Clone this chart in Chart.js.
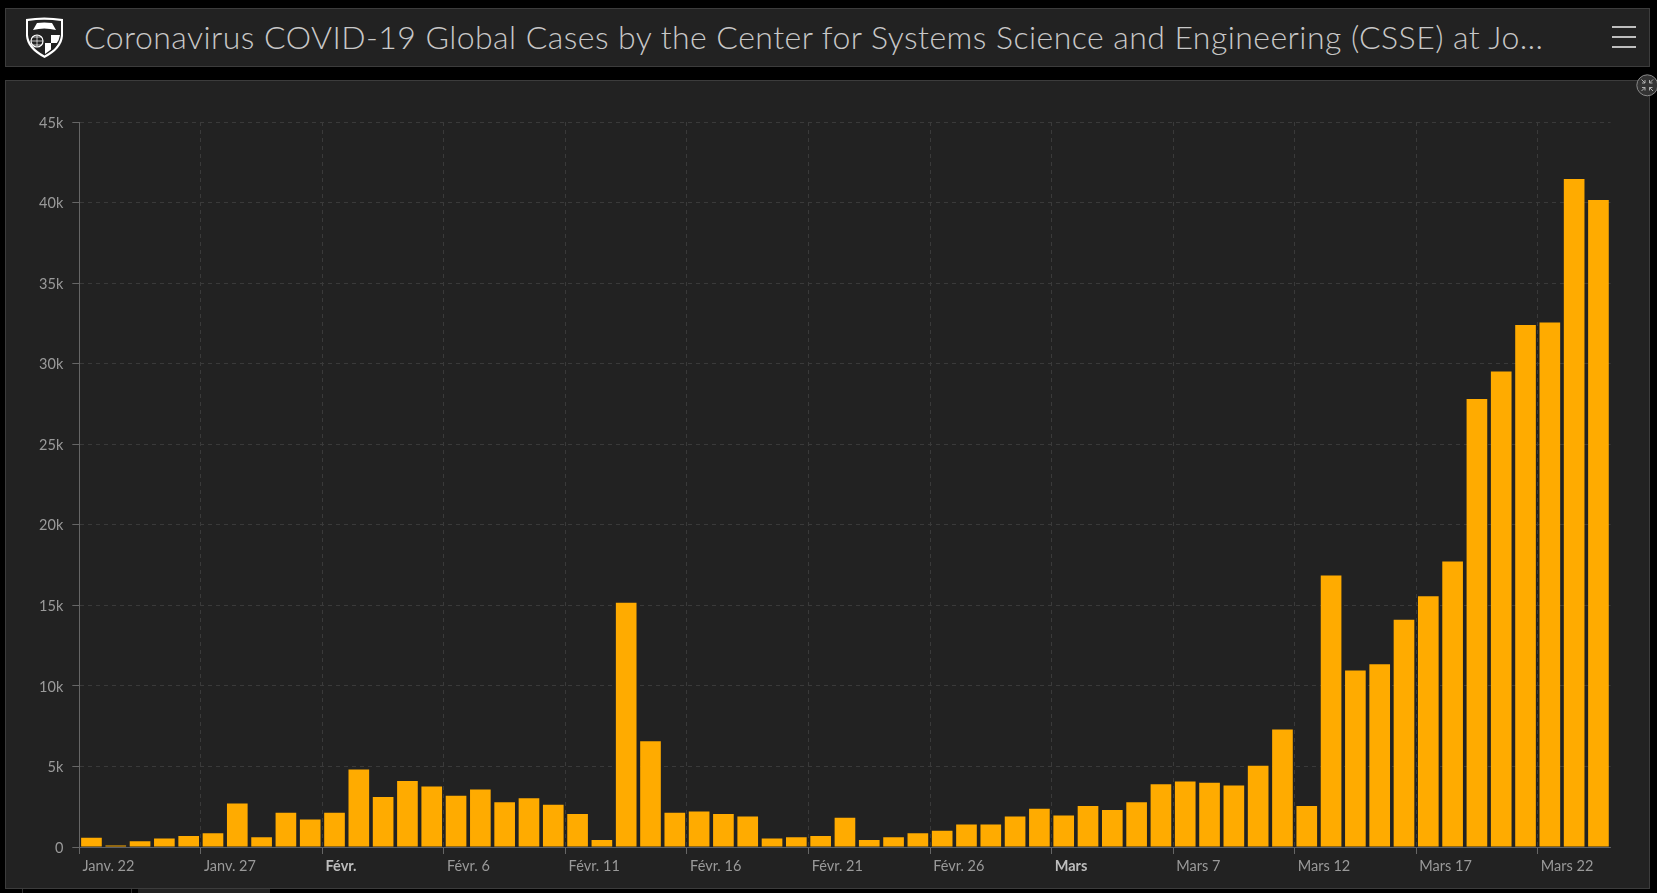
<!DOCTYPE html>
<html lang="fr"><head><meta charset="utf-8">
<script src="https://cdn.jsdelivr.net/npm/chart.js@4"></script>
<style>
html,body{margin:0;padding:0;background:#000;width:1657px;height:893px;overflow:hidden}
.panel{position:absolute;box-sizing:border-box;background:#222;border:1px solid #3c3c3c}
#head{left:5px;top:8px;width:1645px;height:59px}
#body{left:5px;top:80px;width:1645px;height:809px}
#title{position:absolute;left:84px;top:15px;height:44px;line-height:44px;font:300 32px/44px Lato,sans-serif;color:#c8c8c8;white-space:nowrap;letter-spacing:.45px}
canvas{position:absolute;left:0;top:0}
.bar{position:absolute;left:1612px;width:24px;height:2px;background:#bdbdbd}
.frag{position:absolute;background:#333}
svg{position:absolute}
</style></head><body>
<div class="panel" id="head"></div>
<div class="panel" id="body"></div>
<div class="frag" style="left:22px;top:889px;width:1px;height:4px"></div>
<div class="frag" style="left:131px;top:889px;width:1px;height:4px"></div>
<div class="frag" style="left:138px;top:889px;width:132px;height:4px;background:#222"></div>
<svg style="left:24px;top:16px" width="41" height="43" viewBox="0 0 41 43">
<path d="M2 3 Q20 0 39 3 L39 20 Q38 33 20.500 42 Q3 33 2 20Z" fill="#fff"/>
<path d="M4 5 Q20 2.500 37 5 L37 19 L4 19Z" fill="#222"/>
<path d="M9 14 L13 7 Q20 6 28 7 L32 14 Q20 11 9 14Z" fill="#fff"/>
<path d="M4 19 H37 Q36 31 20.500 39.500 Q5 31 4 19Z" fill="#222"/>
<circle cx="13" cy="25" r="6" fill="none" stroke="#fff" stroke-width="1.200"/>
<path d="M7 25H19M13 19V31M9 21H17M9 29H17" stroke="#fff" stroke-width=".7"/>
<path d="M21 19H36Q35 29 21 38Z" fill="#fff"/>
<path d="M21 19H27V27H21ZM27 27H34Q32 32 27 35Z" fill="#222"/>
</svg>
<div id="title">Coronavirus COVID-19 Global Cases by the Center for Systems Science and Engineering (CSSE) at Jo…</div>
<div class="bar" style="top:26px"></div><div class="bar" style="top:36px"></div><div class="bar" style="top:46px"></div>
<canvas id="c" width="1657" height="893"></canvas>
<svg style="left:1635px;top:73px" width="22" height="24" viewBox="0 0 22 24">
<circle cx="12.300" cy="12.300" r="10.500" fill="#333" stroke="#8a8a8a" stroke-width="1"/>
<path d="M6.500 6.500L10 10M10 7V10H7M18 6.500L14.500 10M14.500 7V10H17.500M6.500 18L10 14.500M10 17.500V14.500H7M18 18L14.500 14.500M14.500 17.500V14.500H17.500" fill="none" stroke="#bbb" stroke-width=".9"/>
</svg>
<script>
const categories = ["Janv. 22","Janv. 23","Janv. 24","Janv. 25","Janv. 26","Janv. 27","Janv. 28","Janv. 29","Janv. 30","Janv. 31",
"Févr. 1","Févr. 2","Févr. 3","Févr. 4","Févr. 5","Févr. 6","Févr. 7","Févr. 8","Févr. 9","Févr. 10",
"Févr. 11","Févr. 12","Févr. 13","Févr. 14","Févr. 15","Févr. 16","Févr. 17","Févr. 18","Févr. 19","Févr. 20",
"Févr. 21","Févr. 22","Févr. 23","Févr. 24","Févr. 25","Févr. 26","Févr. 27","Févr. 28","Févr. 29","Mars 1",
"Mars 2","Mars 3","Mars 4","Mars 5","Mars 6","Mars 7","Mars 8","Mars 9","Mars 10","Mars 11",
"Mars 12","Mars 13","Mars 14","Mars 15","Mars 16","Mars 17","Mars 18","Mars 19","Mars 20","Mars 21",
"Mars 22","Mars 23","Mars 24"];
const dailyCases = [580,100,350,520,680,850,2700,600,2130,1710,
2130,4810,3100,4090,3760,3180,3570,2770,3020,2620,
2050,430,15160,6570,2130,2210,2050,1900,520,600,
680,1820,430,600,850,1010,1400,1400,1900,2380,
1960,2540,2290,2770,3900,4070,3990,3820,5040,7290,
2540,16850,10960,11350,14100,15570,17720,27800,29510,32400,
32550,41460,40160];
const tickLabels = ["Janv. 22","Janv. 27","Févr.","Févr. 6","Févr. 11","Févr. 16","Févr. 21","Févr. 26","Mars","Mars 7","Mars 12","Mars 17","Mars 22"];
const boldTicks = ["Févr.","Mars"];
const tickEvery = 5;
const yMax = 45000, yStep = 5000;

new Chart(document.getElementById('c'),{
  type:'bar',
  data:{labels:categories,datasets:[{data:dailyCases,backgroundColor:'#ffab00',borderWidth:0,barPercentage:.85,categoryPercentage:1}]},
  options:{
    responsive:false,animation:false,
    layout:{padding:{left:0,top:122,right:46.4,bottom:0}},
    plugins:{legend:{display:false},tooltip:{enabled:false}},
    scales:{
      x:{
        grid:{offset:true,drawOnChartArea:true,tickLength:7,
          color:c=>c.index%tickEvery===0?'#3a3a3a':'rgba(0,0,0,0)',
          tickColor:c=>c.index%tickEvery===0?'#666':'rgba(0,0,0,0)'},
        border:{color:'#5c6068',width:1,dash:[4,4]},
        ticks:{autoSkip:false,maxRotation:0,minRotation:0,align:'start',labelOffset:-9,padding:4,
          color:c=>boldTicks.includes(tickLabels[c.index/tickEvery])?'#bdbdbd':'#9a9a9a',
          font:c=>({family:'Lato',size:14.500,weight:boldTicks.includes(tickLabels[c.index/tickEvery])?'700':'400'}),
          callback:(v,i)=>i%tickEvery===0?tickLabels[i/tickEvery]:''},
        afterFit:s=>{s.height=46}
      },
      y:{
        min:0,max:yMax,
        grid:{tickLength:7,color:'#3a3a3a',tickColor:'#666'},
        border:{color:'#666',width:1,dash:[4,4]},
        ticks:{stepSize:yStep,padding:9,labelOffset:1,color:'#9a9a9a',font:{family:'Lato',size:14.500},
          callback:v=>v===0?'0':(v/1000)+'k'},
        afterFit:s=>{s.width=79.3}
      }
    }
  }
});
</script>
</body></html>
